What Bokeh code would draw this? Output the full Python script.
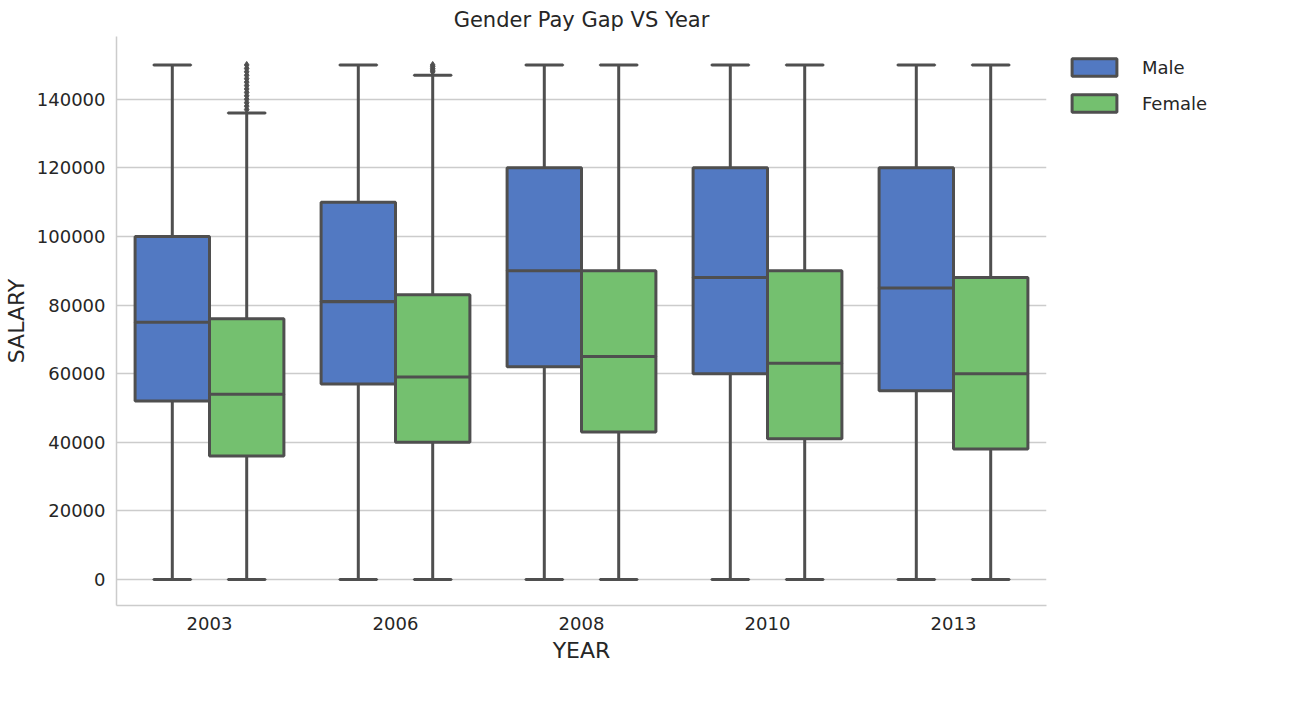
from bokeh.plotting import figure
from bokeh.models import ColumnDataSource, Legend, LegendItem, FixedTicker, Range1d
from bokeh.embed import file_html
from bokeh.resources import INLINE

years = ["2003", "2006", "2008", "2010", "2013"]

male_low = [0, 0, 0, 0, 0]
male_q1 = [52000, 57000, 62000, 60000, 55000]
male_med = [75000, 81000, 90000, 88000, 85000]
male_q3 = [100000, 110000, 120000, 120000, 120000]
male_high = [150000, 150000, 150000, 150000, 150000]

female_low = [0, 0, 0, 0, 0]
female_q1 = [36000, 40000, 43000, 41000, 38000]
female_med = [54000, 59000, 65000, 63000, 60000]
female_q3 = [76000, 83000, 90000, 90000, 88000]
female_high = [136000, 147000, 150000, 150000, 150000]

out_2003_female = [137000, 138000, 139000, 140000, 141000, 142000, 143000, 144000,
                   145000, 146000, 147000, 148000, 149000, 150000]
out_2006_female = [148000, 148500, 149000, 149500, 150000]

MALE_COLOR = "#5279c2"
FEMALE_COLOR = "#74c06f"
EDGE = "#4f4f4f"
FONT = "DejaVu Sans"

p = figure(frame_width=930, frame_height=569, output_backend="svg", toolbar_location=None,
           title="Gender Pay Gap VS Year",
           x_range=Range1d(-0.5, 4.5), y_range=Range1d(-7600, 158300),
           min_border_left=10, min_border_right=10, min_border_top=5, min_border_bottom=10)

p.title.align = "center"
p.title.text_font = FONT
p.title.text_font_size = "21px"
p.title.text_font_style = "normal"
p.title.text_color = "#262626"


def draw_group(offset, low, q1, med, q3, high, color):
    xs = [i + offset for i in range(len(years))]
    src = ColumnDataSource(dict(x=xs, low=low, q1=q1, med=med, q3=q3, high=high))
    p.segment(x0="x", y0="q3", x1="x", y1="high", source=src, line_color=EDGE, line_width=3)
    p.segment(x0="x", y0="low", x1="x", y1="q1", source=src, line_color=EDGE, line_width=3)
    r = p.vbar(x="x", bottom="q1", top="q3", width=0.4, source=src,
               fill_color=color, line_color=EDGE, line_width=3)
    p.rect(x="x", y="med", width=0.4, height=0.01, height_units="screen", source=src,
           line_color=EDGE, line_width=3)
    p.rect(x="x", y="high", width=0.2, height=0.01, height_units="screen", source=src,
           line_color=EDGE, line_width=3)
    p.rect(x="x", y="low", width=0.2, height=0.01, height_units="screen", source=src,
           line_color=EDGE, line_width=3)
    return r


male_r = draw_group(-0.2, male_low, male_q1, male_med, male_q3, male_high, MALE_COLOR)
female_r = draw_group(0.2, female_low, female_q1, female_med, female_q3, female_high, FEMALE_COLOR)

p.scatter(x=[0.2] * len(out_2003_female), y=out_2003_female, marker="diamond",
          size=7, color=EDGE)
p.scatter(x=[1.2] * len(out_2006_female), y=out_2006_female, marker="diamond",
          size=7, color=EDGE)

legend = Legend(items=[LegendItem(label="Male", renderers=[male_r]),
                       LegendItem(label="Female", renderers=[female_r])],
                location="top_left", border_line_color=None, glyph_width=56,
                glyph_height=22, label_text_font=FONT, label_text_font_size="18px",
                label_text_color="#262626", spacing=14, padding=0, margin=20,
                label_standoff=20)
p.add_layout(legend, "right")

p.xaxis.ticker = FixedTicker(ticks=list(range(len(years))))
p.xaxis.major_label_overrides = {i: y for i, y in enumerate(years)}
p.yaxis.ticker = FixedTicker(ticks=list(range(0, 160000, 20000)))
p.xaxis.axis_label = "YEAR"
p.yaxis.axis_label = "SALARY"
for ax in (p.xaxis, p.yaxis):
    ax.axis_label_text_font = FONT
    ax.axis_label_text_font_size = "22px"
    ax.axis_label_text_font_style = "normal"
    ax.axis_label_text_color = "#262626"
    ax.major_label_text_font = FONT
    ax.major_label_text_font_size = "18px"
    ax.major_label_text_color = "#262626"
    ax.major_tick_line_color = None
    ax.minor_tick_line_color = None
    ax.axis_line_color = "#cccccc"
    ax.axis_line_width = 1.5
p.yaxis.formatter.use_scientific = False

p.xgrid.grid_line_color = None
p.ygrid.grid_line_color = "#cccccc"
p.ygrid.grid_line_width = 1.5
p.outline_line_color = None

open("out.html", "w").write(file_html(p, INLINE))
